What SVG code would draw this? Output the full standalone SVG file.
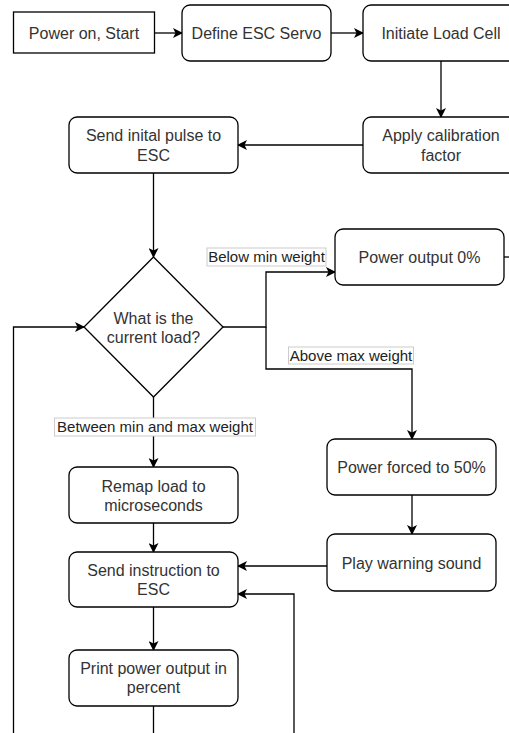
<svg xmlns="http://www.w3.org/2000/svg" width="509" height="733" viewBox="0 0 509 733">
<defs>
<style>
.box{fill:#fff;stroke:#000;stroke-width:1.3}
.t{font-family:"Liberation Sans",Arial,sans-serif;font-size:16px;fill:#333;text-anchor:middle}
.lb{font-family:"Liberation Sans",Arial,sans-serif;font-size:15px;fill:#222;text-anchor:middle}
.lbg{fill:#fff;stroke:#ccc;stroke-width:1}
.c{fill:none;stroke:#000;stroke-width:1.3}
</style>
<marker id="ah" viewBox="0 0 10 10" refX="9" refY="5" markerWidth="10" markerHeight="10" markerUnits="userSpaceOnUse" orient="auto">
<path d="M0,0 L10,5 L0,10 L2.5,5 Z" fill="#000"/>
</marker>
</defs>
<rect width="509" height="733" fill="#fff"/>
<g id="connectors">
<path class="c" d="M154.5,33 H182" marker-end="url(#ah)"/>
<path class="c" d="M331,33 H363" marker-end="url(#ah)"/>
<path class="c" d="M441,61 V117" marker-end="url(#ah)"/>
<path class="c" d="M363,145 H238" marker-end="url(#ah)"/>
<path class="c" d="M153.5,173 V257" marker-end="url(#ah)"/>
<path class="c" d="M223,327 H266 V272 H335" marker-end="url(#ah)"/>
<path class="c" d="M266,327 V369 H412 V439" marker-end="url(#ah)"/>
<path class="c" d="M153.5,397 V467" marker-end="url(#ah)"/>
<path class="c" d="M13.5,733 V327 H84" marker-end="url(#ah)"/>
<path class="c" d="M504,257 H509"/>
<path class="c" d="M153.5,523 V552" marker-end="url(#ah)"/>
<path class="c" d="M412,495 V534" marker-end="url(#ah)"/>
<path class="c" d="M327,566 H238" marker-end="url(#ah)"/>
<path class="c" d="M294,733 V594 H238" marker-end="url(#ah)"/>
<path class="c" d="M153.5,607 V650" marker-end="url(#ah)"/>
<path class="c" d="M153.5,706 V733"/>
<g id="labels">
<rect class="lbg" x="207" y="248" width="119" height="18"/>
<text class="lb" x="266.5" y="262">Below min weight</text>
<rect class="lbg" x="288.5" y="347" width="125" height="17"/>
<text class="lb" x="351" y="361">Above max weight</text>
<rect class="lbg" x="54.5" y="418" width="201" height="18"/>
<text class="lb" x="155" y="432">Between min and max weight</text>
</g>
</g>
<g id="start"><rect class="box" x="13.5" y="12" width="141" height="41"/><text class="t" x="84" y="39">Power on, Start</text></g>
<g id="define"><rect class="box" x="182" y="5" width="149" height="56" rx="8"/><text class="t" x="256.5" y="39">Define ESC Servo</text></g>
<g id="initiate"><rect class="box" x="363" y="5" width="156" height="56" rx="8"/><text class="t" x="441" y="39">Initiate Load Cell</text></g>
<g id="apply"><rect class="box" x="363" y="117" width="156" height="56" rx="8"/><text class="t" x="441" y="141">Apply calibration</text><text class="t" x="441" y="161">factor</text></g>
<g id="sendinit"><rect class="box" x="69" y="117" width="169" height="56" rx="8"/><text class="t" x="153.5" y="141">Send inital pulse to</text><text class="t" x="153.5" y="161">ESC</text></g>
<g id="decision"><path class="box" d="M153.5,257 L223,327 L153.5,397 L84,327 Z"/><text class="t" x="153.5" y="324">What is the</text><text class="t" x="153.5" y="343">current load?</text></g>
<g id="power0"><rect class="box" x="335" y="229" width="169" height="56" rx="8"/><text class="t" x="419.5" y="263">Power output 0%</text></g>
<g id="forced"><rect class="box" x="327" y="439" width="169" height="56" rx="8"/><text class="t" x="411.5" y="473">Power forced to 50%</text></g>
<g id="warning"><rect class="box" x="327" y="534" width="169" height="57" rx="8"/><text class="t" x="411.5" y="569">Play warning sound</text></g>
<g id="remap"><rect class="box" x="69" y="467" width="169" height="56" rx="8"/><text class="t" x="153.5" y="492">Remap load to</text><text class="t" x="153.5" y="511">microseconds</text></g>
<g id="sendinstr"><rect class="box" x="69" y="552" width="169" height="55" rx="8"/><text class="t" x="153.5" y="576">Send instruction to</text><text class="t" x="153.5" y="595">ESC</text></g>
<g id="print"><rect class="box" x="69" y="650" width="169" height="56" rx="8"/><text class="t" x="153.5" y="674">Print power output in</text><text class="t" x="153.5" y="693">percent</text></g>
</svg>
